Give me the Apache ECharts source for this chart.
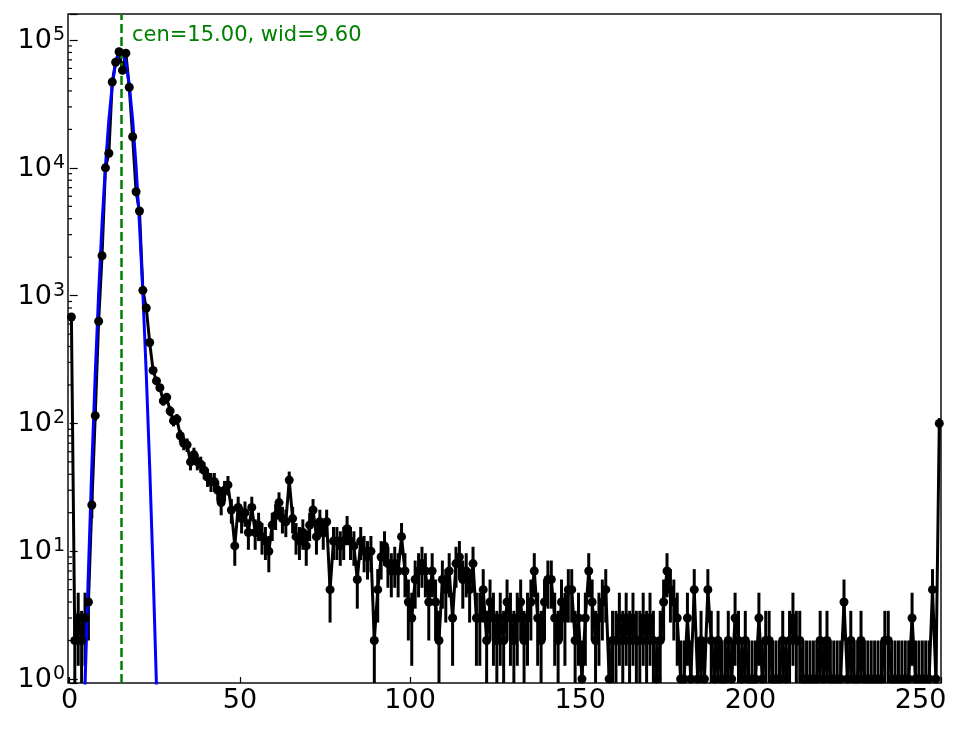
<!DOCTYPE html>
<html>
<head>
<meta charset="utf-8">
<title>histogram fit</title>
<script src="https://cdn.jsdelivr.net/npm/echarts@6/dist/echarts.min.js"></script>
<style>
  html, body { margin: 0; padding: 0; background: #fff; }
  #chart { width: 964px; height: 729px; }
</style>
</head>
<body>
<div id="chart"></div>
<script>
// counts per bin, bins 0..255 (bin centre = index + 0.5)
const counts = [
  680, 2, 3, 2, 3, 4, 23, 115, 630, 2050,
  10000, 13000, 47000, 67000, 81000, 58000, 79000, 42700, 17500, 6500,
  4600, 1100, 800, 430, 260, 215, 190, 150, 160, 125,
  105, 108, 80, 70, 68, 50, 57, 50, 48, 43,
  38, 35, 35, 30, 24, 30, 33, 21, 11, 22,
  18, 20, 14, 22, 14, 16, 13, 12, 10, 16,
  19, 24, 18, 17, 36, 18, 13, 12, 14, 11,
  16, 21, 13, 17, 14, 17, 5, 12, 12, 11,
  12, 15, 12, 11, 6, 12, 10, 9, 10, 2,
  5, 9, 11, 8, 7, 8, 7, 13, 7, 4,
  3, 6, 7, 8, 7, 4, 7, 4, 2, 6,
  5, 7, 3, 8, 9, 6, 7, 5, 8, 3,
  3, 5, 2, 4, 3, 2, 3, 2, 4, 3,
  2, 3, 4, 2, 3, 4, 7, 3, 2, 4,
  6, 6, 3, 2, 4, 3, 5, 5, 2, 3,
  1, 3, 7, 4, 2, 3, 4, 5, 1, 2,
  2, 3, 2, 3, 2, 3, 2, 2, 3, 2,
  3, 2, 1, 2, 4, 7, 5, 4, 3, 1,
  1, 3, 1, 5, 1, 2, 1, 5, 2, 1,
  2, 1, 1, 2, 1, 3, 2, 1, 2, 1,
  1, 1, 3, 1, 2, 2, 1, 1, 1, 2,
  1, 2, 3, 2, 2, 1, 1, 1, 1, 1,
  2, 1, 2, 1, 1, 1, 1, 4, 1, 2,
  1, 1, 2, 1, 1, 1, 1, 1, 1, 2,
  2, 1, 1, 1, 1, 1, 1, 3, 1, 1,
  1, 1, 1, 5, 1, 100,
];

// fitted curve as drawn (blue)
const fitX = [3.5, 4.5, 5.5, 6.5, 7.5, 8.5, 9.5, 10.5, 11.5, 12.5, 13.5, 14.5,
  15.5, 16.5, 17.5, 18.5, 19.5, 20.5, 21.5, 22.5, 23.5, 24.5, 25.5, 26.5];
const fitY = [0.09, 0.88, 7, 46, 242, 1045, 3640, 10300, 23700, 44300, 67200, 82800,
  82800, 67200, 44300, 23700, 10300, 3640, 1045, 242, 46, 7, 0.88, 0.09];

const fitCentre = 15;
const fitLabel = 'cen=15.00, wid=9.60';

const xTicks = [0, 50, 100, 150, 200, 250];
const yMajor = [1, 10, 100, 1000, 10000, 100000];
const yMinor = [
  2, 3, 4, 5, 6, 7, 8, 9,
  20, 30, 40, 50, 60, 70, 80, 90,
  200, 300, 400, 500, 600, 700, 800, 900,
  2000, 3000, 4000, 5000, 6000, 7000, 8000, 9000,
  20000, 30000, 40000, 50000, 60000, 70000, 80000, 90000,
];

const X_MIN = -0.5;
const X_MAX = 256;
const Y_MIN = 0.93;
const Y_MAX = 1.6e5;
const FONT = 'DejaVu Sans';

const points = counts.map((v, i) => [i + 0.5, v]);
const errors = counts.map((v, i) => [i + 0.5, Math.max(v - Math.sqrt(v), Y_MIN), v + Math.sqrt(v)]);
const fitLine = fitX.map((x, i) => [x, fitY[i]]);

const chart = echarts.init(document.getElementById('chart'), null, { renderer: 'canvas' });

function isPow10(v) {
  const e = Math.log10(v);
  return Math.abs(e - Math.round(e)) < 1e-6;
}

chart.setOption({
  animation: false,
  backgroundColor: '#fff',
  grid: { left: 68, right: 23, top: 14, bottom: 46, show: true, borderColor: '#111', borderWidth: 1.5, backgroundColor: 'transparent' },
  xAxis: {
    type: 'value',
    min: X_MIN,
    max: X_MAX,
    axisLine: { show: false },
    axisTick: { show: true, inside: true, length: 6, lineStyle: { color: '#000', width: 1.2 } },
    splitLine: { show: false },
    axisLabel: {
      margin: 4,
      fontSize: 27,
      fontFamily: FONT,
      color: '#000',
      formatter: (v) => (xTicks.includes(Math.round(v)) && Math.abs(v - Math.round(v)) < 1e-9 ? String(Math.round(v) + 0) : ''),
    },
  },
  yAxis: {
    type: 'log',
    logBase: 10,
    min: Y_MIN,
    max: Y_MAX,
    axisLine: { show: false },
    axisTick: { show: true, inside: true, length: 8, lineStyle: { color: '#000', width: 1.2 } },
    splitLine: { show: false },
    axisLabel: {
      margin: 3,
      color: '#000',
      formatter: (v) => (isPow10(v) && yMajor.includes(Math.round(v)) ? `{b|10}{e|${Math.round(Math.log10(v))}}` : ''),
      rich: {
        b: { fontSize: 27, fontFamily: FONT, color: '#000', padding: [2, 0, 0, 0] },
        e: { fontSize: 19, fontFamily: FONT, color: '#000', verticalAlign: 'top', padding: [0, 0, 0, 1] },
      },
    },
  },
  series: [
    {
      name: 'minor ticks',
      type: 'custom',
      silent: true,
      data: yMinor.map((v) => [X_MIN, v]),
      renderItem: (params, api) => {
        const p = api.coord([api.value(0), api.value(1)]);
        return {
          type: 'line',
          shape: { x1: p[0], y1: p[1], x2: p[0] + 4, y2: p[1] },
          style: { stroke: '#000', lineWidth: 1.2 },
        };
      },
      z: 1,
    },
    {
      name: 'errors',
      type: 'custom',
      silent: true,
      clip: true,
      data: errors,
      renderItem: (params, api) => {
        const lo = api.coord([api.value(0), api.value(1)]);
        const hi = api.coord([api.value(0), api.value(2)]);
        return {
          type: 'line',
          shape: { x1: lo[0], y1: lo[1], x2: hi[0], y2: hi[1] },
          style: { stroke: '#000', lineWidth: 3 },
        };
      },
      z: 2,
    },
    {
      name: 'data',
      type: 'line',
      data: points,
      showSymbol: false,
      lineStyle: { color: '#000', width: 3 },
      clip: true,
      z: 3,
    },
    {
      name: 'fit',
      type: 'line',
      data: fitLine,
      showSymbol: false,
      lineStyle: { color: '#0000ff', width: 3 },
      clip: true,
      z: 4,
    },
    {
      name: 'markers',
      type: 'scatter',
      data: points,
      symbol: 'circle',
      symbolSize: 9,
      itemStyle: { color: '#000', opacity: 1 },
      clip: true,
      z: 5,
      markLine: {
        silent: true,
        symbol: 'none',
        label: { show: false },
        lineStyle: { color: '#008000', width: 2.5, type: [9, 4] },
        data: [{ xAxis: fitCentre }],
      },
    },
  ],
  graphic: [
    {
      type: 'text',
      left: 132,
      top: 25,
      z: 10,
      style: { text: fitLabel, fill: '#008000', font: `21px "${FONT}"` },
    },
  ],
});
</script>
</body>
</html>
